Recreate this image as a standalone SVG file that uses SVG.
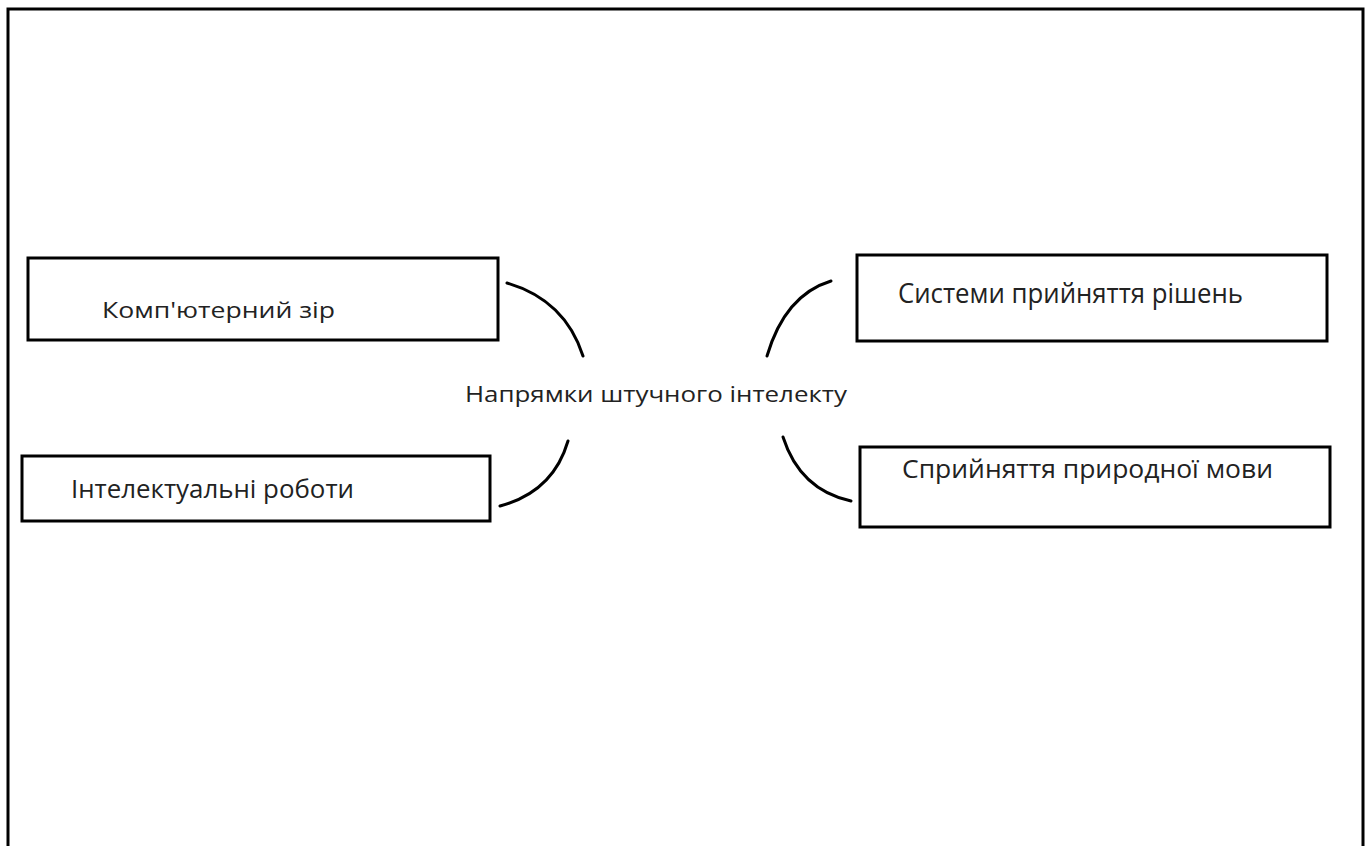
<svg xmlns="http://www.w3.org/2000/svg" width="1370" height="846" viewBox="0 0 1370 846">
<style>
.box{fill:#fff;stroke:#000;stroke-width:3}
.lbl{font-family:"Open Sans","Noto Sans","Liberation Sans",sans-serif;fill:#222}
.con{fill:none;stroke:#000;stroke-width:3;stroke-linecap:round}
</style>
<rect width="1370" height="846" fill="#fff"/>
<path d="M8,846 V9 H1363 V846" fill="none" stroke="#000" stroke-width="3"/>
<g id="connectors">
<path class="con" d="M507,283 Q565,300 583,356"/>
<path class="con" d="M568,441 Q553,492 500,506"/>
<path class="con" d="M831,281 Q785,295 767,356"/>
<path class="con" d="M783,437 Q800,490 851,501"/>
</g>
<g id="center"><text class="lbl" x="465" y="402" font-size="22" textLength="382" lengthAdjust="spacingAndGlyphs">Напрямки штучного інтелекту</text></g>
<g id="n1"><rect class="box" x="28" y="258" width="470" height="82"/><text class="lbl" x="102" y="318" font-size="21" textLength="233" lengthAdjust="spacingAndGlyphs">Комп'ютерний зір</text></g>
<g id="n2"><rect class="box" x="22" y="456" width="468" height="65"/><text class="lbl" x="71" y="498" font-size="25" textLength="283" lengthAdjust="spacingAndGlyphs">Інтелектуальні роботи</text></g>
<g id="n3"><rect class="box" x="857" y="255" width="470" height="86"/><text class="lbl" x="898" y="303" font-size="27" textLength="345" lengthAdjust="spacingAndGlyphs">Системи прийняття рішень</text></g>
<g id="n4"><rect class="box" x="860" y="447" width="470" height="80"/><text class="lbl" x="902" y="478" font-size="26" textLength="371" lengthAdjust="spacingAndGlyphs">Сприйняття природної мови</text></g>
</svg>
